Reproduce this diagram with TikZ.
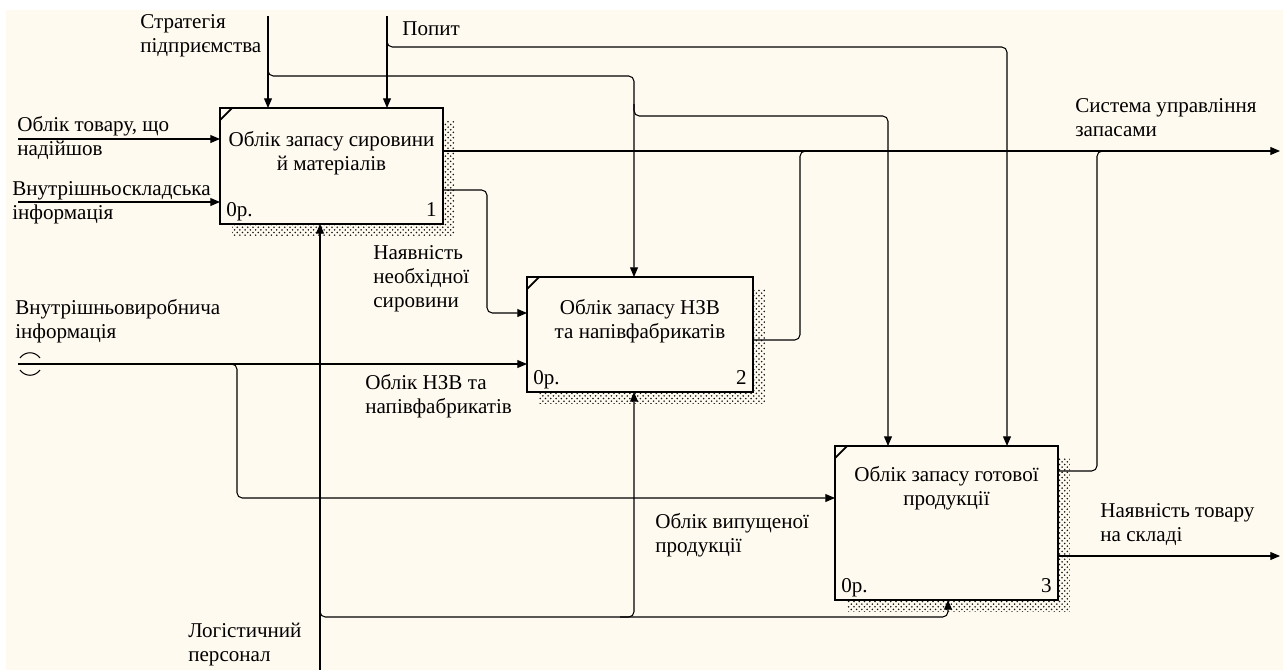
\documentclass[tikz,border=0pt]{standalone}
\usepackage{fontspec}
\setmainfont{Liberation Serif}
\usepackage{tikz}
\usetikzlibrary{arrows.meta,positioning,calc,patterns,shadows}
\definecolor{paperCream}{RGB}{255,250,239}
\definecolor{shadeGray}{RGB}{20,20,20}

\begin{document}
\begin{tikzpicture}[x=0.02cm,y=-0.02cm,
    funcbox/.style={draw,line width=1.2pt,fill=paperCream,inner sep=0pt,outer sep=0pt,anchor=north west,
      general shadow={pattern=crosshatch dots,pattern color=shadeGray,shadow xshift=0.24cm,shadow yshift=-0.24cm}},
    flow/.style={line width=0.6pt,rounded corners=3pt},
    arr/.style={flow,-{Triangle[length=5.5pt,width=4.5pt]}},
    lbl/.style={font=\fontsize{12}{13.6}\selectfont,align=left,anchor=north west,inner sep=0pt},
    boxtxt/.style={font=\fontsize{12}{13.6}\selectfont,align=center,inner sep=0pt},
    boxnum/.style={font=\fontsize{12}{13.6}\selectfont,inner sep=0pt}]
        % Paper
        \fill[white] (0,0) rectangle (1283,670);
        \fill[paperCream] (6,10) rectangle (1283,670);
        \useasboundingbox (0,0) rectangle (1283,670);
        % Functions
        \node[funcbox,minimum width=4.46cm,minimum height=2.32cm] (b1) at (220,108) {};
        \node[funcbox,minimum width=4.52cm,minimum height=2.30cm] (b2) at (527,277) {};
        \node[funcbox,minimum width=4.46cm,minimum height=3.08cm] (b3) at (835,446) {};
        \node[boxtxt] (t1) at ($(b1.north)+(0,45)$) {Облік запасу сировини\\й матеріалів};
        \node[boxtxt] (t2) at ($(b2.north)+(0,44)$) {Облік запасу НЗВ\\та напівфабрикатів};
        \node[boxtxt] (t3) at ($(b3.north)+(0,42)$) {Облік запасу готової\\продукції};
        \draw[line width=1pt] ($(b1.north west)+(0,12)$) -- ($(b1.north west)+(12,0)$);
        \draw[line width=1pt] ($(b2.north west)+(0,12)$) -- ($(b2.north west)+(12,0)$);
        \draw[line width=1pt] ($(b3.north west)+(0,12)$) -- ($(b3.north west)+(12,0)$);
        \node[boxnum,anchor=base west] (p1) at ($(b1.south west)+(6,-7)$) {0р.};
        \node[boxnum,anchor=base east] (n1) at ($(b1.south east)+(-6,-7)$) {1};
        \node[boxnum,anchor=base west] (p2) at ($(b2.south west)+(6,-7)$) {0р.};
        \node[boxnum,anchor=base east] (n2) at ($(b2.south east)+(-6,-7)$) {2};
        \node[boxnum,anchor=base west] (p3) at ($(b3.south west)+(6,-7)$) {0р.};
        \node[boxnum,anchor=base east] (n3) at ($(b3.south east)+(-6,-7)$) {3};
        % Free ends
        \coordinate (stratTop) at (268,16);
        \coordinate (popTop) at (387,16);
        \coordinate (in1) at (18,139);
        \coordinate (in2) at (18,202);
        \coordinate (in3) at (18,364);
        \coordinate (mechBot) at (320,670);
        \coordinate (outTop) at (1280,151);
        \coordinate (outBot) at (1280,556);
        % Controls
        \draw[arr] (stratTop) -- ($(b1.north west)+(48,0)$);
        \draw[arr] (popTop) -- ($(b1.north west)+(167,0)$);
        \draw[arr] (268,64) -- (268,76) -- (634,76) -- ($(b2.north west)+(107,0)$);
        \draw[arr] (634,104) -- (634,116) -- (888,116) -- ($(b3.north west)+(53,0)$);
        \draw[arr] (387,36) -- (387,47) -- (1007,47) -- ($(b3.north west)+(172,0)$);
        % Inputs
        \draw[arr] (in1) -- ($(b1.north west)+(0,31)$);
        \draw[arr] (in2) -- ($(b1.north west)+(0,94)$);
        \draw[arr] (in3) -- ($(b2.north west)+(0,87)$);
        \draw[arr] (225,364) -- (237,364) -- (237,498) -- ($(b3.north west)+(0,52)$);
        \draw[line width=0.6pt] (20,358) .. controls (25,351) and (35,351) .. (40,358);
        \draw[line width=0.6pt] (20,370) .. controls (25,377) and (35,377) .. (40,370);
        % Outputs
        \draw[arr] ($(b1.north east)+(0,43)$) -- (outTop);
        \draw[arr] ($(b1.north east)+(0,82)$) -- (487,190) -- (487,313) -- ($(b2.north west)+(0,36)$);
        \draw[flow] ($(b2.north east)+(0,63)$) -- (800,340) -- (800,151) -- (815,151);
        \draw[flow] ($(b3.north east)+(0,25)$) -- (1097,471) -- (1097,151) -- (1110,151);
        \draw[arr] ($(b3.north east)+(0,110)$) -- (outBot);
        % Mechanisms
        \draw[arr] (mechBot) -- ($(b1.south west)+(100,0)$);
        \draw[arr] (320,605) -- (320,617) -- (634,617) -- ($(b2.south west)+(107,0)$);
        \draw[arr] (620,617) -- (948,617) -- ($(b3.south west)+(113,0)$);
        % Labels
        \node[lbl] (lStrat) at (140,14) {Стратегія\\підприємства};
        \node[lbl] (lPop) at (402,21) {Попит};
        \node[lbl] (lIn1) at (17,116) {Облік товару, що\\надійшов};
        \node[lbl] (lIn2) at (12,181) {Внутрішньоскладська\\інформація};
        \node[lbl] (lAvail) at (373,245) {Наявність\\необхідної\\сировини};
        \node[lbl] (lIn3) at (15,299) {Внутрішньовиробнича\\інформація};
        \node[lbl] (lWip) at (365,374) {Облік НЗВ та\\напівфабрикатів};
        \node[lbl] (lSys) at (1075,98) {Система управління\\запасами};
        \node[lbl] (lStock) at (1100,503) {Наявність товару\\на складі};
        \node[lbl] (lMade) at (655,513) {Облік випущеної\\продукції};
        \node[lbl] (lStaff) at (188,623) {Логістичний\\персонал};
      \end{tikzpicture}
\end{document}
